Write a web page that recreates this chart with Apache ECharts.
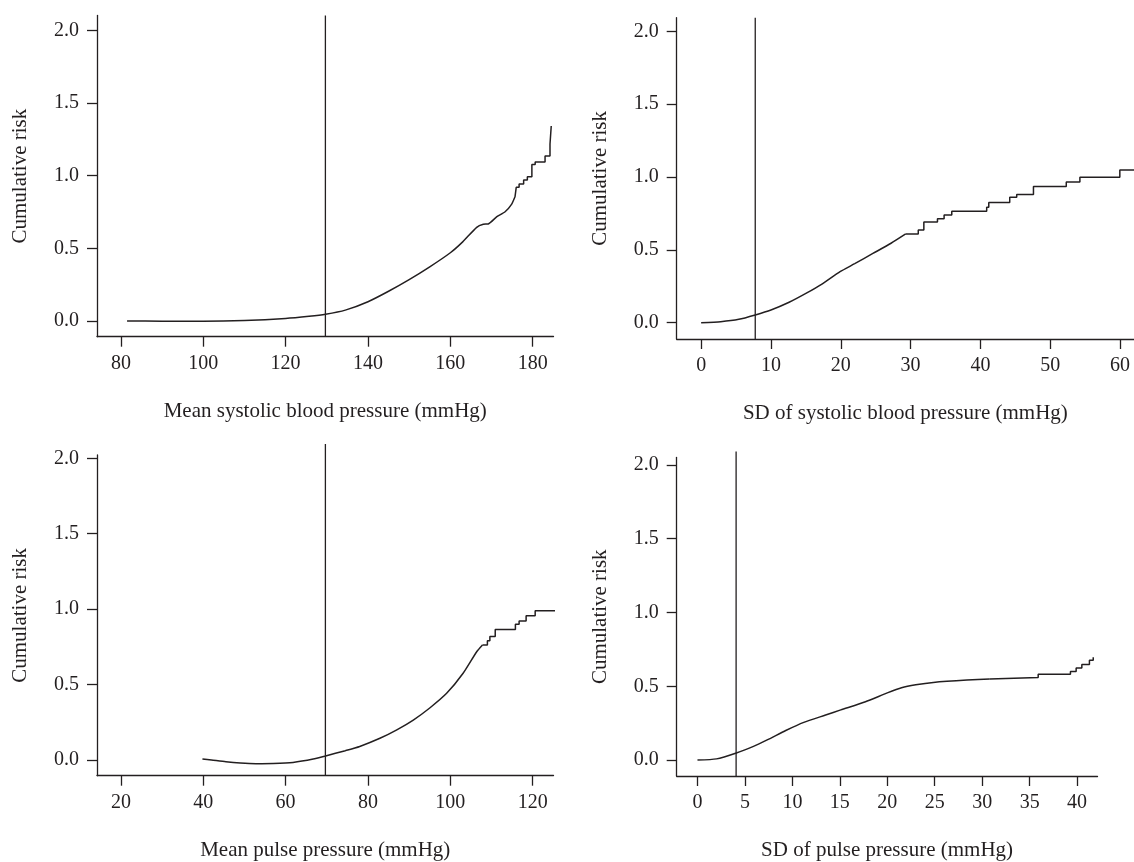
<!DOCTYPE html>
<html><head><meta charset="utf-8">
<script src="https://cdn.jsdelivr.net/npm/echarts@6/dist/echarts.min.js"></script>
<style>html,body{margin:0;padding:0;background:#fff}#c{width:1134px;height:862px}</style>
</head><body><div id="c"></div>
<script>
// ---- data ----
const yTickValues = [0, 0.5, 1.0, 1.5, 2.0];
const yTitle = 'Cumulative risk';

const p1Title = 'Mean systolic blood pressure (mmHg)';
const p1XTicks = [80, 100, 120, 140, 160, 180];
const p1Cut = 129.66;
const p1Curve = [[81.5,0],[90,-0.001],[100,-0.001],[110,0.004],[120,0.018],[125.7,0.033],[129.7,0.047],[134.5,0.075],[140,0.133],[145,0.205],[150,0.285],[155,0.373],[160,0.47],[163,0.545],[166.4,0.645],[168,0.666],[169.2,0.668],[171.3,0.718],[173.3,0.752],[174.9,0.805],[175.7,0.855]];
const p1Steps = [[175.7,0.855],[176.0,0.92],[176.7,0.943],[177.8,0.97],[178.7,0.993],[179.8,1.078],[180.6,1.094],[183.0,1.136],[184.2,1.218],[184.5,1.342]];

const p2Title = 'SD of systolic blood pressure (mmHg)';
const p2XTicks = [0, 10, 20, 30, 40, 50, 60];
const p2Cut = 7.75;
const p2Curve = [[0,0],[2.8,0.007],[5.4,0.023],[7.75,0.053],[10,0.087],[12.6,0.14],[15.2,0.206],[17.3,0.265],[19.9,0.35],[22,0.405],[24.6,0.475],[27.2,0.545],[29.3,0.609]];
const p2Steps = [[29.3,0.609],[31.1,0.636],[31.9,0.691],[33.85,0.714],[34.8,0.739],[35.9,0.764],[40.9,0.792],[41.2,0.824],[44.2,0.861],[45.2,0.879],[47.6,0.934],[52.3,0.966],[54.25,0.998],[59.97,1.048],[62,1.048]];

const p3Title = 'Mean pulse pressure (mmHg)';
const p3XTicks = [20, 40, 60, 80, 100, 120];
const p3Cut = 69.66;
const p3Curve = [[39.8,0.007],[42,0.0],[45.5,-0.012],[49,-0.02],[52.8,-0.024],[57,-0.023],[61.8,-0.016],[66.7,0.006],[69.7,0.027],[74.5,0.062],[78,0.09],[82.9,0.144],[87,0.2],[91,0.265],[95,0.345],[99.1,0.442],[103.1,0.575],[106.4,0.718],[107.8,0.763]];
const p3Steps = [[107.8,0.763],[109.0,0.791],[109.6,0.818],[110.9,0.866],[115.8,0.9],[116.7,0.922],[118.4,0.957],[120.6,0.99],[126.1,0.99]];

const p4Title = 'SD of pulse pressure (mmHg)';
const p4XTicks = [0, 5, 10, 15, 20, 25, 30, 35, 40];
const p4Cut = 4.07;
const p4Curve = [[0,0],[2,0.008],[4.1,0.048],[5.9,0.093],[7.4,0.138],[9.3,0.2],[11.2,0.255],[13.5,0.305],[15.1,0.34],[17.7,0.395],[20,0.455],[21.5,0.49],[23,0.51],[24.85,0.526],[28.4,0.542],[30.8,0.549]];
const p4Steps = [[30.8,0.549],[30.8,0.56],[35.9,0.582],[39.3,0.6],[39.9,0.623],[40.5,0.648],[41.3,0.677],[41.7,0.697]];

// ---- layout / style ----
const INK = '#231f20';
const FONT = '"Liberation Serif","DejaVu Serif",serif';
const panels = [
  {grid:{left:97, top:15.5, width:456.5, height:321.2}, x:[74.2,185.05], y:[-0.108,2.103], vTop:2.103, ticks:p1XTicks, title:p1Title, curve:p1Curve, steps:p1Steps, cut:p1Cut},
  {grid:{left:676.7, top:17.7, width:457.3, height:321.3}, x:[-3.5,62.0], y:[-0.112,2.093], vTop:2.093, ticks:p2XTicks, title:p2Title, curve:p2Curve, steps:p2Steps, cut:p2Cut},
  {grid:{left:97, top:455, width:456.5, height:320.7}, x:[14.2,125.05], y:[-0.104,2.022], vTop:2.095, ticks:p3XTicks, title:p3Title, curve:p3Curve, steps:p3Steps, cut:p3Cut},
  {grid:{left:676.7, top:457.5, width:420.8, height:320.8}, x:[-2.19,42.15], y:[-0.108,2.05], vTop:2.09, ticks:p4XTicks, title:p4Title, curve:p4Curve, steps:p4Steps, cut:p4Cut}
];

const grid = [], xAxis = [], yAxis = [], series = [];
panels.forEach((p, i) => {
  grid.push(Object.assign({containLabel:false}, p.grid));
  xAxis.push({
    type:'value', gridIndex:i, min:p.x[0], max:p.x[1],
    name:p.title, nameLocation:'middle', nameGap:64,
    nameTextStyle:{fontFamily:FONT, fontSize:21, color:INK},
    axisLine:{show:true, onZero:false, lineStyle:{color:INK, width:1.3}},
    axisTick:{show:true, length:10, customValues:p.ticks, lineStyle:{color:INK, width:1.3}},
    axisLabel:{customValues:p.ticks, margin:17, fontFamily:FONT, fontSize:20, color:INK,
      formatter:v=>String(v)},
    splitLine:{show:false}
  });
  yAxis.push({
    type:'value', gridIndex:i, min:p.y[0], max:p.y[1],
    name:yTitle, nameLocation:'middle', nameGap:66,
    nameTextStyle:{fontFamily:FONT, fontSize:21, color:INK},
    axisLine:{show:true, onZero:false, lineStyle:{color:INK, width:1.3}},
    axisTick:{show:true, length:10, customValues:yTickValues, lineStyle:{color:INK, width:1.3}},
    axisLabel:{customValues:yTickValues, margin:18, fontFamily:FONT, fontSize:20, color:INK,
      formatter:v=>v.toFixed(1)},
    splitLine:{show:false}
  });
  series.push({
    type:'line', xAxisIndex:i, yAxisIndex:i, data:p.curve, showSymbol:false, symbol:'none',
    smooth:0.2, clip:false, silent:true,
    lineStyle:{color:INK, width:1.5}
  });
  series.push({
    type:'line', xAxisIndex:i, yAxisIndex:i, data:p.steps, showSymbol:false, symbol:'none',
    step:'end', clip:false, silent:true,
    lineStyle:{color:INK, width:1.5}
  });
  series.push({
    type:'line', xAxisIndex:i, yAxisIndex:i, data:[[p.cut, p.y[0]],[p.cut, p.vTop]],
    showSymbol:false, symbol:'none', clip:false, silent:true,
    lineStyle:{color:INK, width:1.3}
  });
});

const chart = echarts.init(document.getElementById('c'), null, {renderer:'canvas'});
chart.setOption({animation:false, backgroundColor:'#fff', grid, xAxis, yAxis, series});
</script></body></html>
